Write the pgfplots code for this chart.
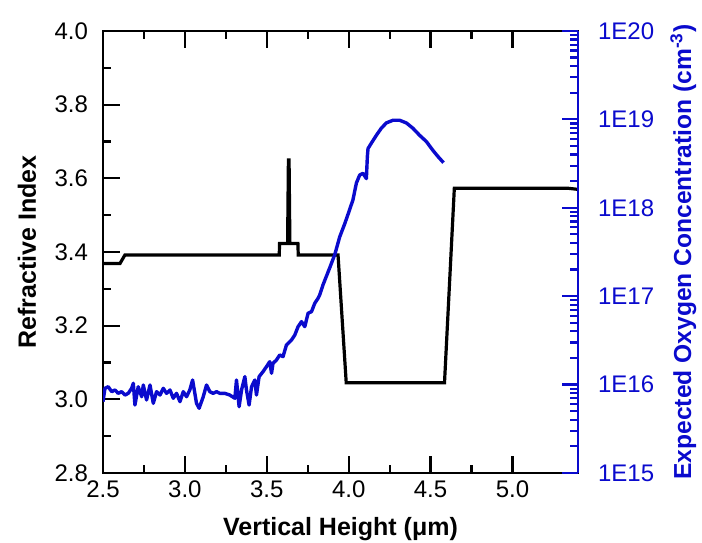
\documentclass[border=0pt]{standalone}
\usepackage{pgfplots}
\pgfplotsset{compat=1.18}
\usepackage{fontspec}
\setmainfont{Liberation Sans}
\definecolor{oxblue}{RGB}{10,10,205}
\begin{document}
\begin{tikzpicture}
\begin{axis}[
  scale only axis, width=237.5pt, height=221pt,
  xmin=2.5, xmax=5.4, ymin=2.8, ymax=4.0,
  xtick={2.5,3.0,...,5.0}, minor x tick num=1,
  ytick={2.8,3.0,...,4.0}, minor y tick num=1,
  ytick pos=left, xtick pos=both,
  tick align=inside,
  major tick length=8.5pt, minor tick length=4.2pt,
  axis line style={line width=1.1pt},
  tick style={black, line width=1.1pt},
  /pgf/number format/assume math mode=true,
  /pgf/number format/fixed, /pgf/number format/fixed zerofill, /pgf/number format/precision=1,
  tick label style={font=\fontsize{12}{14}\selectfont},
  yticklabel style={xshift=-4pt},
  xticklabel style={yshift=-0.5pt},
  xlabel={Vertical Height (μm)},
  ylabel={Refractive Index},
  label style={font=\fontsize{12.5}{15}\selectfont\bfseries},
  xlabel style={at={(axis description cs:0.5,-0.128)}, anchor=center},
  ylabel style={at={(axis description cs:-0.16,0.5)}, anchor=center, rotate=0},
]
\addplot[black, line width=1.6pt, line join=miter] coordinates {
(2.500,3.369) (2.604,3.369) (2.634,3.392) (3.576,3.392) (3.578,3.423)
(3.627,3.423) (3.632,3.650) (3.636,3.650) (3.641,3.423) (3.690,3.423)
(3.692,3.392) (3.935,3.392) (3.985,3.045) (4.585,3.045) (4.645,3.573)
(5.340,3.573) (5.400,3.570)
};
\end{axis}
\begin{axis}[
  scale only axis, width=237.5pt, height=221pt,
  xmin=2.5, xmax=5.4, ymode=log, ymin=1e15, ymax=1e20,
  axis y line*=right, axis x line=none,
  ytick={1e15,1e16,1e17,1e18,1e19,1e20},
  yticklabels={1E15,1E16,1E17,1E18,1E19,1E20},
  minor ytick={2e15,3e15,4e15,5e15,6e15,7e15,8e15,9e15,
               2e16,3e16,4e16,5e16,6e16,7e16,8e16,9e16,
               2e17,3e17,4e17,5e17,6e17,7e17,8e17,9e17,
               2e18,3e18,4e18,5e18,6e18,7e18,8e18,9e18,
               2e19,3e19,4e19,5e19,6e19,7e19,8e19,9e19},
  tick align=inside,
  major tick length=8pt, minor tick length=4pt,
  axis line style={oxblue, line width=1.1pt},
  tick style={oxblue, line width=1.1pt},
  tick label style={font=\fontsize{12}{14}\selectfont, text=oxblue},
  yticklabel style={xshift=6.5pt},
  ylabel={Expected Oxygen Concentration (cm\textsuperscript{-3})},
  ylabel style={at={(axis description cs:1.222,0.5)}, anchor=center, rotate=0,
    font=\fontsize{12.3}{15}\selectfont\bfseries, text=oxblue},
]
\addplot[oxblue, line width=1.7pt, line join=round] coordinates {
(2.500,6.41e15) (2.512,9.08e15) (2.532,9.46e15) (2.553,8.32e15) (2.573,8.69e15)
(2.593,7.96e15) (2.614,8.32e15) (2.634,7.62e15) (2.654,7.96e15) (2.675,9.08e15)
(2.685,1.035e16) (2.695,5.87e15) (2.715,9.46e15) (2.736,7.29e15) (2.746,9.89e15)
(2.766,6.70e15) (2.787,9.89e15) (2.807,6.14e15) (2.827,8.32e15) (2.848,7.62e15)
(2.868,9.08e15) (2.888,7.96e15) (2.909,8.69e15) (2.929,7.00e15) (2.949,7.96e15)
(2.970,6.41e15) (2.990,8.32e15) (3.010,7.29e15) (3.030,8.69e15) (3.047,1.127e16)
(3.071,6.14e15) (3.087,5.40e15) (3.112,7.29e15) (3.132,9.89e15) (3.152,8.32e15)
(3.173,7.96e15) (3.193,8.32e15) (3.213,7.96e15) (3.244,7.96e15) (3.274,7.62e15)
(3.305,7.00e15) (3.315,1.127e16) (3.331,5.62e15) (3.346,8.69e15) (3.366,1.230e16)
(3.376,8.69e15) (3.392,5.87e15) (3.407,9.46e15) (3.427,1.127e16) (3.437,7.62e15)
(3.453,1.230e16) (3.477,1.400e16) (3.498,1.596e16) (3.518,1.816e16) (3.529,1.343e16)
(3.538,1.742e16) (3.559,1.897e16) (3.579,2.163e16) (3.599,2.070e16) (3.620,2.805e16)
(3.651,3.199e16) (3.671,3.639e16) (3.691,4.519e16) (3.712,5.152e16) (3.732,4.519e16)
(3.752,6.412e16) (3.773,6.683e16) (3.793,8.318e16) (3.813,9.462e16) (3.823,1.033e17)
(3.843,1.340e17) (3.884,2.089e17) (3.915,2.951e17) (3.945,4.677e17) (3.976,6.607e17)
(4.006,9.550e17) (4.026,1.230e18) (4.047,1.905e18) (4.067,2.344e18) (4.087,2.455e18)
(4.108,2.138e18) (4.114,3.802e18) (4.118,4.677e18) (4.138,5.370e18) (4.169,6.607e18)
(4.199,7.943e18) (4.230,9.120e18) (4.270,9.772e18) (4.311,9.772e18) (4.352,9.120e18)
(4.392,7.943e18) (4.433,6.607e18) (4.474,5.623e18) (4.514,4.467e18) (4.545,3.802e18)
(4.579,3.236e18)
};
\end{axis}
\pgfresetboundingbox
\path (current axis.south west) ++(-51.5pt,-34.5pt) coordinate (bbA);
\path (current axis.north east) ++(62pt,15.5pt) coordinate (bbB);
\path (bbA) rectangle (bbB);
\end{tikzpicture}
\end{document}
